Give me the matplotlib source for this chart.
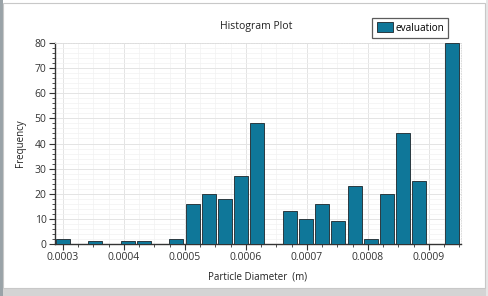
import numpy as np
import matplotlib
matplotlib.use("Agg")
import matplotlib.pyplot as plt
from matplotlib.patches import Rectangle
from matplotlib.ticker import MultipleLocator

# histogram data
bin_start = 0.0003          # centre of first bin (m)
bin_width = 0.00002656      # bin width (m)
counts = [2, 0, 1, 0, 1, 1, 0, 2, 16, 20, 18, 27, 48, 0,
          13, 10, 16, 9, 23, 2, 20, 44, 25, 0, 80]
x_ticks = [0.0003, 0.0004, 0.0005, 0.0006, 0.0007, 0.0008, 0.0009]
x_labels = ["0.0003", "0.0004", "0.0005", "0.0006", "0.0007", "0.0008", "0.0009"]
y_ticks = [0, 10, 20, 30, 40, 50, 60, 70, 80]

plt.rcParams['font.family'] = ['Open Sans', 'DejaVu Sans']

fig = plt.figure(figsize=(4.89, 2.96), dpi=100)
fig.patch.set_facecolor("white")

# window frame
fig.patches.append(Rectangle((0, 0), 1, 8 / 296, transform=fig.transFigure,
                             facecolor="#d4d4d4", edgecolor="none", zorder=-5))
fig.patches.append(Rectangle((0, 0), 3 / 489, 1, transform=fig.transFigure,
                             facecolor="#9aa3a8", edgecolor="none", zorder=-5))
fig.patches.append(Rectangle((486 / 489, 0), 3 / 489, 1, transform=fig.transFigure,
                             facecolor="#e6e6e6", edgecolor="none", zorder=-5))
fig.patches.append(Rectangle((3 / 489, 8 / 296), 482 / 489, 285 / 296, transform=fig.transFigure,
                             facecolor="white", edgecolor="#c8c8c8", lw=0.8, zorder=-4))

ax = fig.add_axes([55 / 489, 1 - 244 / 296, 406 / 489, 201 / 296])

centres = bin_start + bin_width * np.arange(len(counts))
ax.bar(centres, counts, width=bin_width * 0.86, color="#0f7799",
       edgecolor="#2b3a40", linewidth=0.7, label="evaluation", zorder=3)

ax.set_xlim(0.000287, 0.0009525)
ax.set_ylim(0, 80)
ax.set_xticks(x_ticks)
ax.set_xticklabels(x_labels)
ax.set_yticks(y_ticks)
ax.xaxis.set_minor_locator(MultipleLocator(0.000025))
ax.yaxis.set_minor_locator(MultipleLocator(2))

ax.grid(which="major", color="#e4e4e4", lw=0.7, zorder=0)
ax.grid(which="minor", color="#f2f2f2", lw=0.5, zorder=0)

for s in ["top", "right"]:
    ax.spines[s].set_color("#dddddd")
    ax.spines[s].set_linestyle(":")
    ax.spines[s].set_linewidth(0.7)
for s in ["left", "bottom"]:
    ax.spines[s].set_color("#333333")
    ax.spines[s].set_linewidth(1.0)

ax.tick_params(which="major", length=4, width=0.8, color="#333333",
               labelsize=7.5, labelcolor="#333333", pad=2)
ax.tick_params(which="minor", length=2, width=0.6, color="#333333")

ax.set_xlabel("Particle Diameter  (m)", fontsize=7, color="#222222", labelpad=6)
ax.set_ylabel("Frequency", fontsize=7, color="#222222", labelpad=6)
fig.text(256 / 489, 1 - 27 / 296, "Histogram Plot", ha="center", va="center",
         fontsize=7.5, color="#222222")

leg = fig.legend(loc="upper left", bbox_to_anchor=(372 / 489, 1 - 18 / 296),
                 fontsize=7.2, frameon=True, fancybox=False, borderpad=0.45,
                 handlelength=1.6, handleheight=1.1, handletextpad=0.25,
                 borderaxespad=0)
leg.get_frame().set_edgecolor("#333333")
leg.get_frame().set_linewidth(0.9)

fig.savefig("out.png", dpi=100)
